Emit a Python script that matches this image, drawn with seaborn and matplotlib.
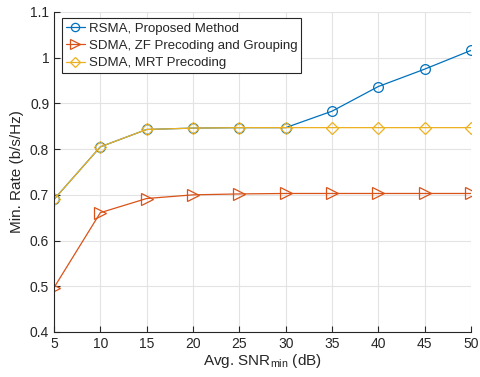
import matplotlib
matplotlib.use("Agg")
import matplotlib.pyplot as plt
import seaborn as sns
import pandas as pd

snr = [5, 10, 15, 20, 25, 30, 35, 40, 45, 50]
rsma = [0.690, 0.805, 0.843, 0.846, 0.847, 0.847, 0.883, 0.937, 0.975, 1.016]
sdma_zf = [0.497, 0.661, 0.692, 0.700, 0.702, 0.703, 0.703, 0.703, 0.703, 0.703]
sdma_mrt = [0.690, 0.805, 0.843, 0.846, 0.847, 0.847, 0.847, 0.847, 0.847, 0.847]
labels = ["RSMA, Proposed Method", "SDMA, ZF Precoding and Grouping", "SDMA, MRT Precoding"]
xticks = [5, 10, 15, 20, 25, 30, 35, 40, 45, 50]
yticks = [0.4, 0.5, 0.6, 0.7, 0.8, 0.9, 1.0, 1.1]
ytick_labels = ["0.4", "0.5", "0.6", "0.7", "0.8", "0.9", "1", "1.1"]

sns.set_style("white")
plt.rcParams['font.family'] = ['Liberation Sans', 'DejaVu Sans']
plt.rcParams['mathtext.fontset'] = 'custom'
plt.rcParams['mathtext.rm'] = 'Liberation Sans'
plt.rcParams['mathtext.it'] = 'Liberation Sans'

df = pd.DataFrame({
    "snr": snr * 3,
    "rate": rsma + sdma_zf + sdma_mrt,
    "method": [labels[0]] * len(snr) + [labels[1]] * len(snr) + [labels[2]] * len(snr),
})

colors = ["#0072BD", "#D95319", "#EDB120"]
markers = ["o", ">", "D"]
msizes = [7, 8, 6]

fig = plt.figure(figsize=(4.8, 3.77), dpi=100)
ax = fig.add_axes([0.1125, 0.1194, 0.8688, 0.8488])

for i, lab in enumerate(labels):
    sub = df[df["method"] == lab]
    sns.lineplot(data=sub, x="snr", y="rate", ax=ax, color=colors[i], marker=markers[i],
                 markersize=msizes[i], markerfacecolor="none", markeredgecolor=colors[i],
                 markeredgewidth=0.9, linewidth=0.9, label=lab)

ax.set_xlim(5, 50)
ax.set_ylim(0.4, 1.1)
ax.set_xticks(xticks)
ax.set_yticks(yticks)
ax.set_yticklabels(ytick_labels)
ax.grid(True, color="#e3e3e3", linewidth=0.8)
ax.set_axisbelow(True)
for s in ["top", "right"]:
    ax.spines[s].set_visible(False)
for s in ["left", "bottom"]:
    ax.spines[s].set_color("#262626")
    ax.spines[s].set_linewidth(0.8)
ax.tick_params(axis="both", which="both", direction="in", length=4, color="#262626",
               labelsize=10, labelcolor="#262626", left=True, bottom=True)
ax.set_xlabel("Avg. SNR$_{\\mathrm{min}}$ (dB)", fontsize=11, color="#262626", labelpad=1)
ax.set_ylabel("Min. Rate (b/s/Hz)", fontsize=11, color="#262626", labelpad=4)

leg = ax.legend(loc="upper left", bbox_to_anchor=(0.012, 0.988), fontsize=9.5, frameon=True,
                fancybox=False, edgecolor="#262626", framealpha=1, borderpad=0.3,
                handlelength=1.5, handletextpad=0.25, labelspacing=0.38, borderaxespad=0.2,
                markerscale=0.85)
leg.get_frame().set_linewidth(0.8)

fig.savefig("out.png", dpi=100)
